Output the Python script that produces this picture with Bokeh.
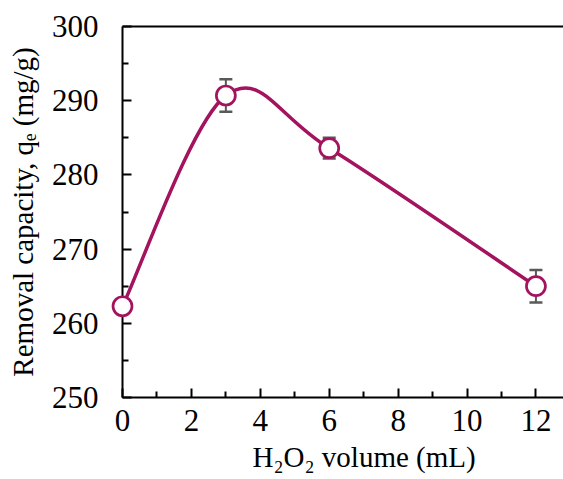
from bokeh.plotting import figure
from bokeh.models import Range1d, LinearAxis, FixedTicker, Title
from bokeh.embed import file_html
from bokeh.resources import INLINE

# data
volume = [0, 3, 6, 12]
capacity = [262.3, 290.7, 283.6, 265.0]
error = [0.5, 2.2, 1.4, 2.2]
x_ticks = [0, 2, 4, 6, 8, 10, 12]
y_ticks = [250, 260, 270, 280, 290, 300]
x_title = "H\u2082O\u2082 volume (mL)"
y_title = "Removal capacity, q\u2091 (mg/g)"

COLOR = "#A3135E"
FONT = "Liberation Serif"

p = figure(width=563, height=479, output_backend="svg", toolbar_location=None,
           x_range=Range1d(0, 12.8), y_range=Range1d(250, 300),
           min_border_left=122, min_border_right=0, min_border_top=26,
           min_border_bottom=82)
p.outline_line_color = None
p.grid.grid_line_color = None
p.background_fill_color = "white"
p.border_fill_color = "white"

# smoothed curve (Excel-style Bezier through points)
n = len(volume)
x0, y0, x1, y1, cx0, cy0, cx1, cy1 = [], [], [], [], [], [], [], []
for i in range(n - 1):
    pm = i - 1 if i > 0 else i
    pn = i + 2 if i + 2 < n else i + 1
    x0.append(volume[i]); y0.append(capacity[i])
    x1.append(volume[i + 1]); y1.append(capacity[i + 1])
    cx0.append(volume[i] + (volume[i + 1] - volume[pm]) / 6)
    cy0.append(capacity[i] + (capacity[i + 1] - capacity[pm]) / 6)
    cx1.append(volume[i + 1] - (volume[pn] - volume[i]) / 6)
    cy1.append(capacity[i + 1] - (capacity[pn] - capacity[i]) / 6)
p.bezier(x0=x0, y0=y0, x1=x1, y1=y1, cx0=cx0, cy0=cy0, cx1=cx1, cy1=cy1,
         line_color=COLOR, line_width=3.5)

# error bars
up = [c + e for c, e in zip(capacity, error)]
lo = [c - e for c, e in zip(capacity, error)]
p.segment(x0=volume, y0=lo, x1=volume, y1=up, line_color="#595959", line_width=2)
p.scatter(x=volume + volume, y=up + lo, marker="dash", size=13,
          line_color="#595959", line_width=2.5)

# markers
p.scatter(x=volume, y=capacity, size=19, marker="circle", fill_color="white",
          line_color=COLOR, line_width=2.7, level="overlay")

for ax in (p.xaxis[0], p.yaxis[0]):
    ax.axis_line_width = 2
    ax.axis_line_color = "black"
    ax.major_tick_in = 9
    ax.major_tick_out = 0
    ax.minor_tick_in = 6
    ax.minor_tick_out = 0
    ax.major_tick_line_width = 2
    ax.minor_tick_line_width = 2
    ax.major_tick_line_color = "black"
    ax.minor_tick_line_color = "black"
    ax.major_label_text_font = FONT
    ax.major_label_text_font_size = "31px"
    ax.major_label_text_color = "black"
    ax.axis_label_text_font = FONT
    ax.axis_label_text_font_size = "29px"
    ax.axis_label_text_font_style = "normal"
    ax.axis_label_text_color = "black"

p.xaxis.ticker = FixedTicker(ticks=x_ticks, minor_ticks=[1, 3, 5, 7, 9, 11])
p.yaxis.ticker = FixedTicker(ticks=y_ticks, minor_ticks=[255, 265, 275, 285, 295])
p.xaxis.major_label_standoff = 12
p.yaxis.major_label_standoff = 24
p.yaxis.axis_label = y_title
p.yaxis.axis_label_standoff = 10

xt = Title(text=x_title, align="left", offset=130, standoff=11,
           text_font=FONT, text_font_size="29px", text_font_style="normal",
           text_color="black")
p.add_layout(xt, "below")

top = LinearAxis(ticker=FixedTicker(ticks=[]), major_label_text_font_size="0px",
                 major_tick_in=0, major_tick_out=0, minor_tick_in=0, minor_tick_out=0,
                 axis_line_width=2, axis_line_color="black")
p.add_layout(top, "above")

open("out.html", "w").write(file_html(p, INLINE))
